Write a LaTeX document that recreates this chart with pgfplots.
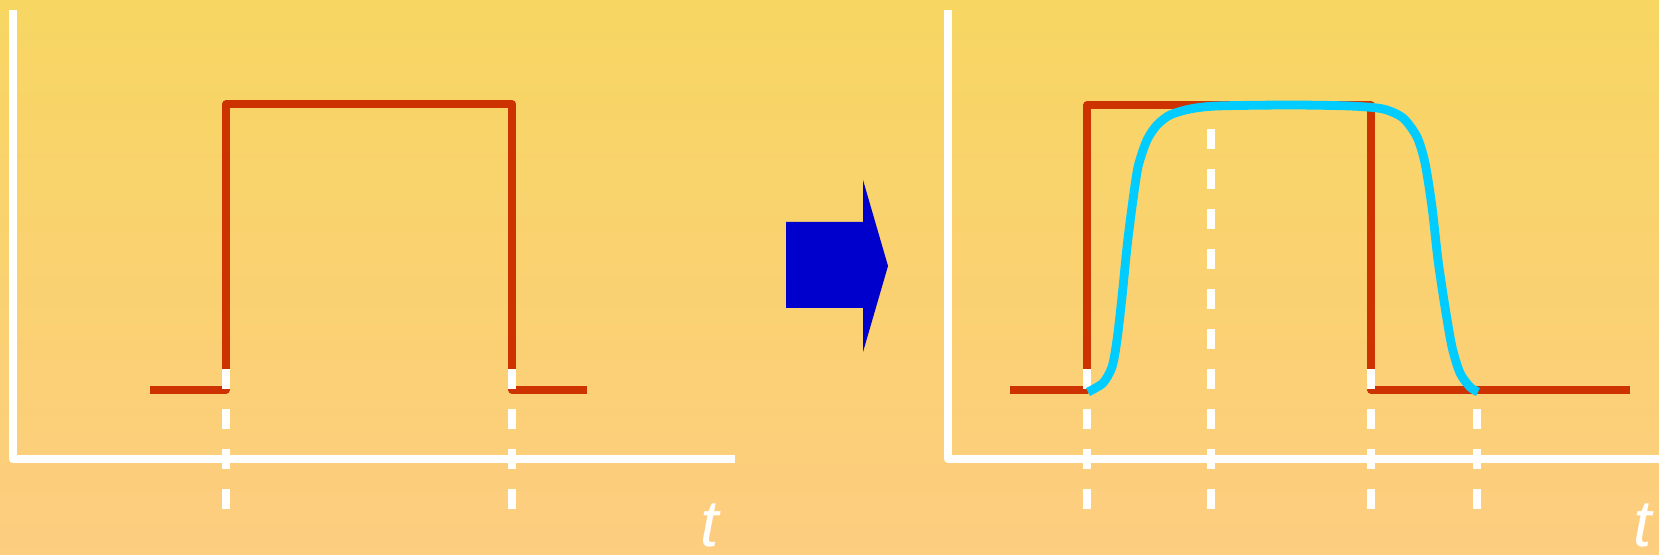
\documentclass[border=0pt]{standalone}
\usepackage{pgfplots}
\pgfplotsset{compat=1.18}
\usepackage{fontspec}
\setmainfont{Liberation Sans}

\definecolor{bgtop}{RGB}{247,214,98}
\definecolor{bgbot}{RGB}{253,205,128}
\definecolor{pulse}{RGB}{204,51,0}
\definecolor{resp}{RGB}{0,204,255}
\definecolor{arrowblue}{RGB}{0,0,204}

\begin{document}
\begin{tikzpicture}
% one axis in pixel units of the reference (y runs downwards)
\begin{axis}[
    width=414.75pt, height=138.75pt, scale only axis,
    xmin=0, xmax=1659, ymin=0, ymax=555, y dir=reverse,
    axis line style={draw=none}, ticks=none,
    axis background/.style={top color=bgtop, bottom color=bgbot},
    marker/.style={white, no markers, line width=1.8pt, dash pattern=on 5pt off 5pt},
]
% axes of both panels
\addplot[white, no markers, line width=2pt, line join=round] coordinates {(13,10)(13,459)(735,459)};
\addplot[white, no markers, line width=2pt, line join=round] coordinates {(948,10)(948,459)(1659,459)};

% input pulse
\addplot[pulse, no markers, line width=1.85pt, line join=round] coordinates
    {(150,390)(226,390)(226,104)(512,104)(512,390)(587,390)};
\addplot[pulse, no markers, line width=1.85pt, line join=round] coordinates
    {(1010,390)(1087,390)(1087,105)(1371,105)(1371,390)(1630,390)};

% markers of the time instants
\addplot[marker] coordinates {(226,509)(226,369)};
\addplot[marker] coordinates {(512,509)(512,369)};
\addplot[marker] coordinates {(1087,509)(1087,369)};
\addplot[marker] coordinates {(1211,509)(1211,123)};
\addplot[marker] coordinates {(1371,509)(1371,369)};
\addplot[marker] coordinates {(1477,509)(1477,392)};

% output response
\addplot[resp, no markers, line width=2.2pt, smooth, tension=0.45] coordinates {
    (1088,392)(1103,383)(1112,367)(1117,340)(1122,297)(1127,247)(1132,207)
    (1138,167)(1147,140)(1157,125)(1170,115)(1190,109)(1217,106)(1290,105)
    (1350,106)(1383,109)(1403,118)(1417,137)(1425,163)(1432,207)(1438,260)
    (1445,307)(1452,347)(1460,373)(1470,387)(1478,392)};

% arrow between the panels
\addplot[fill=arrowblue, draw=none, no markers] coordinates
    {(786,222)(863,222)(863,180)(888,266)(863,352)(863,308)(786,308)(786,222)};

\node[text=white, inner sep=0pt, font=\fontsize{16.5}{18}\selectfont\itshape] at (axis cs:710,525) {t};
\node[text=white, inner sep=0pt, font=\fontsize{16.5}{18}\selectfont\itshape] at (axis cs:1643,525) {t};
\end{axis}
\end{tikzpicture}
\end{document}
